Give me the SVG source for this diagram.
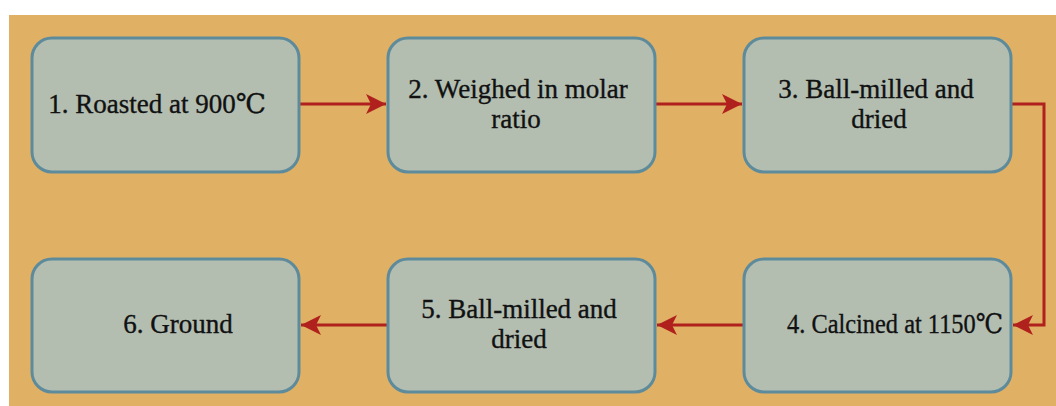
<svg xmlns="http://www.w3.org/2000/svg" width="1056" height="406" viewBox="0 0 1056 406">
<style>
.box{fill:#b3beb1;stroke:#5d8b9c;stroke-width:3}
.lbl{font-family:"Liberation Serif","Times New Roman","DejaVu Serif",serif;font-size:27px;fill:#111;stroke:#111;stroke-width:0.35;text-anchor:middle}
.conn{fill:none;stroke:#b0211e;stroke-width:3;marker-end:url(#ah)}
</style>
<defs>
<marker id="ah" markerUnits="userSpaceOnUse" markerWidth="20" markerHeight="20" refX="20" refY="10" orient="auto">
<path d="M0,0 L20,10 L0,20 L5,10 Z" fill="#b0211e"/>
</marker>
</defs>
<rect x="9" y="15" width="1047" height="391" fill="#e0b064"/>
<g id="connectors">
<path class="conn" d="M299,104 L386,104"/>
<path class="conn" d="M655,104 L742,104"/>
<path class="conn" d="M1011,104 L1044,104 L1044,325 L1013,325"/>
<path class="conn" d="M744,325 L657,325"/>
<path class="conn" d="M388,325 L301,325"/>
</g>
<g id="node1"><rect class="box" x="32" y="38" width="267" height="134" rx="20"/><text class="lbl" x="157" y="113">1. Roasted at 900℃</text></g>
<g id="node2"><rect class="box" x="388" y="38" width="267" height="134" rx="20"/><text class="lbl" x="518" y="98">2. Weighed in molar</text><text class="lbl" x="516" y="128">ratio</text></g>
<g id="node3"><rect class="box" x="744" y="38" width="267" height="134" rx="20"/><text class="lbl" x="876" y="98">3. Ball-milled and</text><text class="lbl" x="879" y="128">dried</text></g>
<g id="node4"><rect class="box" x="744" y="259" width="267" height="133" rx="20"/><text class="lbl" x="895" y="333" textLength="216" lengthAdjust="spacingAndGlyphs">4. Calcined at 1150℃</text></g>
<g id="node5"><rect class="box" x="388" y="259" width="267" height="133" rx="20"/><text class="lbl" x="519" y="318">5. Ball-milled and</text><text class="lbl" x="519" y="348">dried</text></g>
<g id="node6"><rect class="box" x="32" y="259" width="267" height="133" rx="20"/><text class="lbl" x="178" y="333">6. Ground</text></g>
</svg>
